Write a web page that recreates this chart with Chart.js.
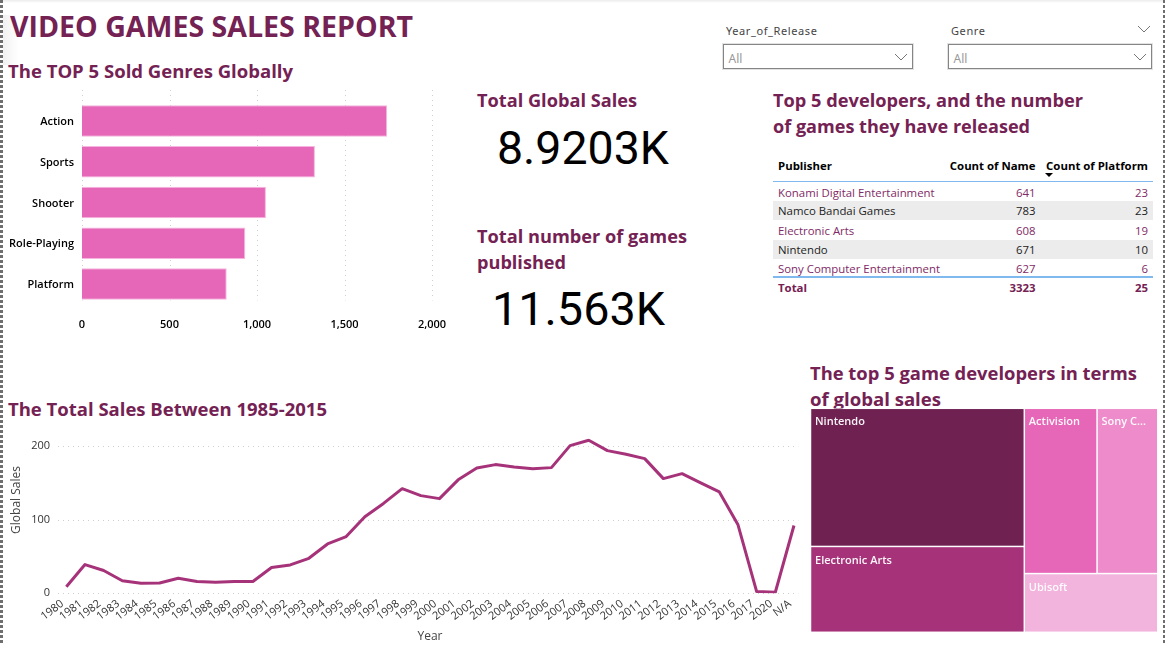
<!DOCTYPE html>
<html><head><meta charset="utf-8">
<script src="https://cdn.jsdelivr.net/npm/chart.js@4"></script>
<style>
html,body{margin:0;padding:0;background:#fff;width:1165px;height:645px;overflow:hidden;font-family:"Open Sans",sans-serif}
.a{position:absolute;white-space:nowrap;transform-origin:left center}
canvas{position:absolute}
.h{color:#742153;font-weight:700;font-size:18px;line-height:26px}
.kpi{font-family:Roboto,sans-serif;color:#000;font-size:46px;line-height:56px}
.slab{font-family:"Noto Sans",sans-serif;font-size:11px;color:#444;letter-spacing:.6px}
.box{position:absolute;box-sizing:border-box;border:1.5px solid #858585;outline:1px solid #e2e2e2;height:25px;top:44px}
.all{position:absolute;left:4.5px;top:4.5px;font-size:12px;color:#999;font-family:"Noto Sans",sans-serif}
.cell{position:absolute;font-size:11.4px;line-height:16px}
</style></head><body>
<div class="a" style="left:0;top:0;width:1165px;height:3px;background:linear-gradient(#ececec,#fff)"></div>
<div class="a" style="left:0;top:15px;width:18px;height:50px;background:linear-gradient(90deg,#eee,#fff)"></div>
<div class="a" style="left:0;top:0;width:3px;height:645px;background:repeating-linear-gradient(#6e6e6e 0 3px,#fff 3px 5px)"></div>
<div class="a" style="left:1163px;top:0;width:2px;height:645px;background:repeating-linear-gradient(#6e6e6e 0 3px,#fff 3px 5px)"></div>

<div class="a h" data-w="403" style="left:10px;top:6px;font-size:28px;line-height:40px">VIDEO GAMES SALES REPORT</div>
<div class="a h" data-w="285" style="left:8px;top:58px">The TOP 5 Sold Genres Globally</div>
<div class="a h" data-w="160" style="left:477px;top:87px">Total Global Sales</div>
<div class="a kpi" data-w="172" style="left:497px;top:120px" id="kpi1"></div>
<div class="a h" data-w="210" style="left:477px;top:223px">Total number of games</div>
<div class="a h" data-w="89" style="left:477px;top:249px">published</div>
<div class="a kpi" data-w="173" style="left:492px;top:281px" id="kpi2"></div>
<div class="a h" data-w="310" style="left:773px;top:87px">Top 5 developers, and the number</div>
<div class="a h" data-w="257" style="left:773px;top:113px">of games they have released</div>
<div class="a h" data-w="327" style="left:810px;top:360px">The top 5 game developers in terms</div>
<div class="a h" data-w="131" style="left:810px;top:386px">of global sales</div>
<div class="a h" data-w="319" style="left:8px;top:396px">The Total Sales Between 1985-2015</div>

<div class="a slab" style="left:726px;top:23px">Year_of_Release</div>
<div class="a slab" style="left:951px;top:23px">Genre</div>
<svg class="a" style="left:1137px;top:24px" width="14" height="10"><path d="M1 2l6 6 6-6" fill="none" stroke="#777"/></svg>
<div class="box" style="left:723px;width:190px"><span class="all">All</span><svg style="position:absolute;right:4px;top:7px" width="14" height="10"><path d="M1 2l6 6 6-6" fill="none" stroke="#777"/></svg></div>
<div class="box" style="left:948px;width:204px"><span class="all">All</span><svg style="position:absolute;right:4px;top:7px" width="14" height="10"><path d="M1 2l6 6 6-6" fill="none" stroke="#777"/></svg></div>

<div id="table"></div>
<canvas id="bars" style="left:0;top:85px"></canvas>
<canvas id="line" style="left:0;top:430px"></canvas>
<canvas id="tree" style="left:805px;top:402px"></canvas>

<script>
// ---------- data ----------
const genres = ['Action','Sports','Shooter','Role-Playing','Platform'];
const genreSales = [1743,1331,1051,933,827];
const genreTicks = [0,500,1000,1500,2000];
const years = ['1980','1981','1982','1983','1984','1985','1986','1987','1988','1989','1990','1991','1992','1993','1994','1995','1996','1997','1998','1999','2000','2001','2002','2003','2004','2005','2006','2007','2008','2009','2010','2011','2012','2013','2014','2015','2016','2017','2020','N/A'];
const yearSales = [9,39,31,17,13.5,14,20.5,16,15,16,16,35,38.5,47.5,67,77,104,122,142,132.6,128.5,154,170,174.7,171.5,169,170.6,200.5,207.7,193.7,188.7,182.8,155.7,162.4,150,137.6,93,2.3,1.4,92];
const yearTicks = [0,100,200];
const treePublishers = ['Nintendo','Electronic Arts','Activision','Sony C...','Ubisoft'];
const treeSales = [1786,1110,727,607,474];
const treeColors = ['#6F2152','#A6337A','#E666B7','#EE8CCB','#F2B3DC'];
const tablePublishers = ['Konami Digital Entertainment','Namco Bandai Games','Electronic Arts','Nintendo','Sony Computer Entertainment'];
const tableNames = [641,783,608,671,627];
const tablePlatforms = [23,23,19,10,6];
const tableTotals = ['Total','3323','25'];
const tableHeads = ['Publisher','Count of Name','Count of Platform'];
const kpiSales = '8.9203K';
const kpiGames = '11.563K';

// ---------- static text ----------
document.getElementById('kpi1').textContent = kpiSales;
document.getElementById('kpi2').textContent = kpiGames;

const tbl = document.getElementById('table');
function cell(txt,left,right,cy,color,bold){
  const d=document.createElement('div'); d.className='cell'; d.textContent=txt;
  d.style.top=(cy-8)+'px'; d.style.color=color; if(bold)d.style.fontWeight='700';
  if(left!=null)d.style.left=left+'px'; else d.style.right=(1165-right)+'px';
  d.style.whiteSpace='nowrap'; tbl.appendChild(d);
}
function rect(l,t,w,h,c){const d=document.createElement('div');d.style.cssText=`position:absolute;left:${l}px;top:${t}px;width:${w}px;height:${h}px;background:${c}`;tbl.appendChild(d);}
const rowY=[192.5,211,230.5,249.5,269];
rect(773,200.5,380,19,'#ececec'); rect(773,239.5,380,19,'#ececec');
rect(773,181,380,1,'#80b9ee'); rect(773,276,380,2,'#80b9ee');
cell(tableHeads[0],778,null,165.5,'#000',true);
cell(tableHeads[1],null,1035.5,165.5,'#000',true);
cell(tableHeads[2],null,1148,165.5,'#000',true);
const arrow=document.createElement('div');arrow.style.cssText='position:absolute;left:1045px;top:173px;border-left:4px solid transparent;border-right:4px solid transparent;border-top:4px solid #000';tbl.appendChild(arrow);
tablePublishers.forEach((p,i)=>{
  const c=i%2===0?'#7F2A66':'#222';
  cell(p,778,null,rowY[i],c,false);
  cell(String(tableNames[i]),null,1035.5,rowY[i],c,false);
  cell(String(tablePlatforms[i]),null,1148,rowY[i],c,false);
});
cell(tableTotals[0],778,null,287.5,'#742153',true);
cell(tableTotals[1],null,1035.5,287.5,'#742153',true);
cell(tableTotals[2],null,1148,287.5,'#742153',true);

function fitAll(){document.querySelectorAll('[data-w]').forEach(e=>{
  if(!e.textContent)return; const w=e.getBoundingClientRect().width;
  e.style.transform=`scaleX(${(+e.dataset.w)/w})`;});}

// ---------- charts ----------
Chart.defaults.animation=false;
Chart.defaults.responsive=false;
Chart.defaults.font.family='"Open Sans",sans-serif';
function size(id,w,h){const c=document.getElementById(id);c.width=w;c.height=h;c.style.width=w+'px';c.style.height=h+'px';return c;}
const setTicks=v=>s=>{s.ticks=v.map(x=>({value:x}));};

// dotted gridlines with the reference's overshoot/undershoot beyond the plot area
const dotted={id:'dotted',beforeDatasetsDraw(ch,_,o){
  const s=ch.scales[o.axis],a=ch.chartArea,g=ch.ctx;g.save();g.strokeStyle='#cfcfcf';g.lineWidth=1;g.setLineDash([1,4]);
  s.ticks.forEach((t,i)=>{const p=Math.round(s.getPixelForTick(i))+.5;g.beginPath();
    if(o.axis==='x'){g.moveTo(p,a.top+o.a);g.lineTo(p,a.bottom+o.b);}else{g.moveTo(a.left+o.a,p);g.lineTo(a.right+o.b,p);}
    g.stroke();});g.restore();}};

new Chart(size('bars',450,255),{type:'bar',plugins:[dotted],
 data:{labels:genres,datasets:[{data:genreSales,backgroundColor:'#E666B7',borderColor:'#F5B5DE',borderWidth:1,barPercentage:.77,categoryPercentage:1}]},
 options:{indexAxis:'y',layout:{padding:{top:15.6,right:18,left:0,bottom:0}},
  plugins:{legend:{display:false},tooltip:{enabled:false},dotted:{axis:'x',a:-10.6,b:-4}},
  scales:{
   x:{min:0,max:2000,border:{display:false},grid:{display:false,drawTicks:false},afterBuildTicks:setTicks(genreTicks),
      afterFit:s=>{s.height=35.6;s.paddingRight=0;s.paddingLeft=0},
      ticks:{maxRotation:0,color:'#000',padding:14,font:{size:11,weight:600}}},
   y:{border:{display:false},grid:{display:false,drawTicks:false},afterFit:s=>{s.width=82;s.paddingTop=0;s.paddingBottom=0},
      ticks:{color:'#000',padding:8,labelOffset:1,font:{size:11,weight:600}}}
  }}});

new Chart(size('line',810,215),{type:'line',plugins:[dotted,{id:'axisTitles',afterDraw(ch){const g=ch.ctx;g.save();g.fillStyle='#444';g.font='12px "Open Sans"';g.textAlign='center';g.textBaseline='middle';
     g.fillText('Year',430,206.5);g.translate(17,70);g.rotate(-Math.PI/2);g.fillText('Global Sales',0,0);g.restore();}}],
 data:{labels:years,datasets:[{data:yearSales,borderColor:'#A6337A',borderWidth:3,pointRadius:0,tension:0,borderJoinStyle:'round',borderCapStyle:'butt'}]},
 options:{layout:{padding:{top:8.6,right:6.7,left:0,bottom:0}},
  plugins:{legend:{display:false},tooltip:{enabled:false},dotted:{axis:'y',a:1,b:-5}},
  scales:{
   x:{offset:true,border:{display:false},grid:{display:false,drawTicks:false},afterFit:s=>{s.height=51.7;s.paddingLeft=0;s.paddingRight=0},
      ticks:{autoSkip:false,maxRotation:37,minRotation:37,color:'#333',padding:4,labelOffset:-4,font:{size:11}}},
   y:{min:0,max:210,border:{display:false},grid:{display:false,drawTicks:false},afterBuildTicks:setTicks(yearTicks),
      afterFit:s=>{s.width=57;s.paddingTop=0;s.paddingBottom=0},
      ticks:{color:'#333',padding:7,font:{size:11}}}
  }}});

// treemap: cell extents derive from the sales values, in scale units; painted through the x/y scales
function treeLayout(v){
  const total=v.reduce((a,b)=>a+b,0),c1=v[0]+v[1],c2=total-c1,top2=v[2]+v[3];
  const cx=c1, ty=top2/c2, ax=cx+(total-cx)*v[2]/top2, ny=v[0]/c1;
  return {total,rects:[[0,0,cx,ny],[0,ny,cx,1],[cx,0,ax,ty],[ax,0,total,ty],[cx,ty,total,1]]};
}
const layout=treeLayout(treeSales);
const treeCells={id:'treeCells',afterDatasetsDraw(ch){
  const g=ch.ctx,X=ch.scales.x,Y=ch.scales.y;g.save();
  layout.rects.forEach((r,i)=>{
    const x0=X.getPixelForValue(r[0]),x1=X.getPixelForValue(r[2]),y0=Y.getPixelForValue(r[1]),y1=Y.getPixelForValue(r[3]);
    g.fillStyle='rgba(255,255,255,.75)';g.fillRect(x0,y0,x1-x0,y1-y0);
    g.fillStyle=treeColors[i];g.fillRect(x0+.75,y0+.75,x1-x0-1.5,y1-y0-1.5);
    g.fillStyle='#fff';g.font='600 11px "Open Sans"';g.textBaseline='middle';g.globalAlpha=.95;
    g.fillText(treePublishers[i],x0+4.5,y0+14);g.globalAlpha=1;
  });g.restore();}};
new Chart(size('tree',360,240),{type:'scatter',plugins:[treeCells],
 data:{datasets:[{data:layout.rects.map((r,i)=>({x:(r[0]+r[2])/2,y:(r[1]+r[3])/2})),pointRadius:0}]},
 options:{layout:{padding:{left:5.5,top:6.3,right:7.2,bottom:9.7}},
  plugins:{legend:{display:false},tooltip:{enabled:false}},
  scales:{x:{display:false,min:0,max:layout.total},y:{display:false,min:0,max:1,reverse:true}}}});
fitAll();
</script>
</body></html>
